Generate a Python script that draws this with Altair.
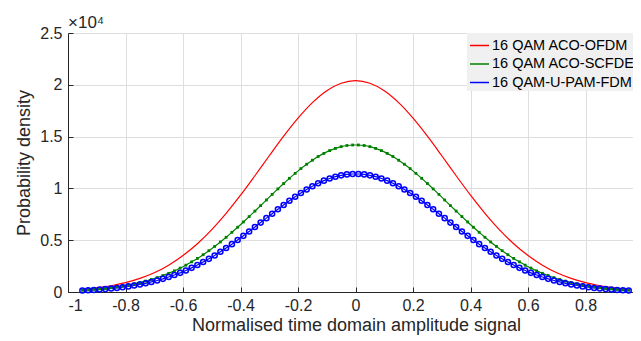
import altair as alt
import pandas as pd

# x grid of the marker series (green / blue)
x_fine = [-0.95, -0.93, -0.91, -0.89, -0.87, -0.85, -0.83, -0.81, -0.79, -0.77,
          -0.75, -0.73, -0.71, -0.69, -0.67, -0.65, -0.63, -0.61, -0.59, -0.57,
          -0.55, -0.53, -0.51, -0.49, -0.47, -0.45, -0.43, -0.41, -0.39, -0.37,
          -0.35, -0.33, -0.31, -0.29, -0.27, -0.25, -0.23, -0.21, -0.19, -0.17,
          -0.15, -0.13, -0.11, -0.09, -0.07, -0.05, -0.03, -0.01,
          0.01, 0.03, 0.05, 0.07, 0.09, 0.11, 0.13, 0.15, 0.17, 0.19,
          0.21, 0.23, 0.25, 0.27, 0.29, 0.31, 0.33, 0.35, 0.37, 0.39,
          0.41, 0.43, 0.45, 0.47, 0.49, 0.51, 0.53, 0.55, 0.57, 0.59,
          0.61, 0.63, 0.65, 0.67, 0.69, 0.71, 0.73, 0.75, 0.77, 0.79,
          0.81, 0.83, 0.85, 0.87, 0.89, 0.91, 0.93, 0.95]

# values in units of 10^4
green = [0.017, 0.021, 0.025, 0.030, 0.035, 0.042, 0.049, 0.058, 0.067, 0.079,
         0.091, 0.105, 0.121, 0.139, 0.159, 0.180, 0.204, 0.231, 0.259, 0.291,
         0.324, 0.360, 0.399, 0.440, 0.483, 0.528, 0.576, 0.625, 0.676, 0.728,
         0.781, 0.834, 0.888, 0.942, 0.995, 1.047, 1.097, 1.145, 1.191, 1.233,
         1.272, 1.308, 1.338, 1.365, 1.386, 1.403, 1.414, 1.419,
         1.419, 1.414, 1.403, 1.386, 1.365, 1.338, 1.308, 1.272, 1.233, 1.191,
         1.145, 1.097, 1.047, 0.995, 0.942, 0.888, 0.834, 0.781, 0.728, 0.676,
         0.625, 0.576, 0.528, 0.483, 0.440, 0.399, 0.360, 0.324, 0.291, 0.259,
         0.231, 0.204, 0.180, 0.159, 0.139, 0.121, 0.105, 0.091, 0.079, 0.067,
         0.058, 0.049, 0.042, 0.035, 0.030, 0.025, 0.021, 0.017]

blue = [0.014, 0.017, 0.020, 0.024, 0.028, 0.034, 0.039, 0.046, 0.054, 0.063,
        0.073, 0.084, 0.097, 0.111, 0.127, 0.145, 0.164, 0.185, 0.208, 0.233,
        0.260, 0.289, 0.320, 0.353, 0.388, 0.424, 0.462, 0.502, 0.542, 0.584,
        0.627, 0.670, 0.713, 0.756, 0.799, 0.840, 0.881, 0.919, 0.956, 0.990,
        1.021, 1.050, 1.075, 1.096, 1.113, 1.126, 1.135, 1.139,
        1.139, 1.135, 1.126, 1.113, 1.096, 1.075, 1.050, 1.021, 0.990, 0.956,
        0.919, 0.881, 0.840, 0.799, 0.756, 0.713, 0.670, 0.627, 0.584, 0.542,
        0.502, 0.462, 0.424, 0.388, 0.353, 0.320, 0.289, 0.260, 0.233, 0.208,
        0.185, 0.164, 0.145, 0.127, 0.111, 0.097, 0.084, 0.073, 0.063, 0.054,
        0.046, 0.039, 0.034, 0.028, 0.024, 0.020, 0.017, 0.014]

x_red = [-0.95, -0.90, -0.85, -0.80, -0.75, -0.70, -0.65, -0.60, -0.55, -0.50,
         -0.45, -0.40, -0.35, -0.30, -0.25, -0.20, -0.15, -0.10, -0.05, 0.0,
         0.05, 0.10, 0.15, 0.20, 0.25, 0.30, 0.35, 0.40, 0.45, 0.50,
         0.55, 0.60, 0.65, 0.70, 0.75, 0.80, 0.85, 0.90, 0.95]
red = [0.025, 0.039, 0.060, 0.090, 0.131, 0.186, 0.259, 0.352, 0.466, 0.602,
       0.759, 0.934, 1.122, 1.315, 1.504, 1.678, 1.828, 1.943, 2.015, 2.040,
       2.015, 1.943, 1.828, 1.678, 1.504, 1.315, 1.122, 0.934, 0.759, 0.602,
       0.466, 0.352, 0.259, 0.186, 0.131, 0.090, 0.060, 0.039, 0.025]

series_names = ["16 QAM ACO-OFDM", "16 QAM ACO-SCFDE", "16 QAM-U-PAM-FDM"]
series_colors = ["#ff0000", "#008000", "#0000ff"]

x_ticks = [-1, -0.8, -0.6, -0.4, -0.2, 0, 0.2, 0.4, 0.6, 0.8]
y_ticks = [0, 0.5, 1, 1.5, 2, 2.5]

df = pd.concat([
    pd.DataFrame({"x": x_red, "y": red, "series": series_names[0]}),
    pd.DataFrame({"x": x_fine, "y": green, "series": series_names[1]}),
    pd.DataFrame({"x": x_fine, "y": blue, "series": series_names[2]}),
], ignore_index=True)

FONT = "Liberation Sans"
TXT = "#262626"

xscale = alt.Scale(domain=[-1, 0.965], nice=False, zero=False)
yscale = alt.Scale(domain=[0, 2.5], nice=False)

xenc = alt.X("x:Q", scale=xscale, axis=alt.Axis(
    values=x_ticks, title="Normalised time domain amplitude signal",
    labelExpr="toString(datum.value)", tickSize={"expr": "-5"},
    labelPadding=10, titlePadding=3, titleX=288))
yenc = alt.Y("y:Q", scale=yscale, axis=alt.Axis(
    values=y_ticks, title="Probability density", format="~g",
    tickSize={"expr": "-5"}, labelPadding=11, titlePadding=6))

base = alt.Chart(df)

lines = base.mark_line(interpolate="monotone", strokeWidth=1.2).encode(
    x=xenc, y=yenc,
    color=alt.Color("series:N", sort=series_names,
                    scale=alt.Scale(domain=series_names, range=series_colors),
                    legend=alt.Legend(title=None, orient="none", legendX=399, legendY=0,
                                      symbolType="stroke", symbolSize=361,
                                      symbolStrokeWidth=1.5, labelFontSize=14.5,
                                      labelFont=FONT, labelColor="#000000",
                                      fillColor="#f0f0f0", padding=2,
                                      rowPadding=1.5, labelOffset=2, labelLimit=300)),
)

green_pts = base.transform_filter(alt.datum.series == series_names[1]).mark_square(
    size=8, filled=True, color=series_colors[1], opacity=1).encode(x="x:Q", y="y:Q")

blue_pts = base.transform_filter(alt.datum.series == series_names[2]).mark_point(
    shape="circle", size=26, filled=False, color=series_colors[2], strokeWidth=1.5,
    opacity=1).encode(x="x:Q", y="y:Q")

chart = alt.layer(lines, green_pts, blue_pts).properties(
    width=565, height=259,
    padding={"left": 60, "top": 25, "right": 0, "bottom": 49},
    autosize=alt.AutoSizeParams(type="none"),
    background="white",
    title=alt.TitleParams("×10⁴", anchor="start", frame="group", fontSize=17,
                          font=FONT, fontWeight="normal", color=TXT, offset=-7),
).configure_view(stroke=None).configure_axis(
    labelFont=FONT, titleFont=FONT, labelFontSize=16, titleFontSize=18,
    labelColor=TXT, titleColor=TXT, titleFontWeight="normal",
    domainColor="#262626", tickColor="#262626", domainWidth=1, tickWidth=1,
    gridColor="#dedede", gridWidth=1,
)

chart.save("out.html", embed_options={"renderer": "svg", "actions": False})
